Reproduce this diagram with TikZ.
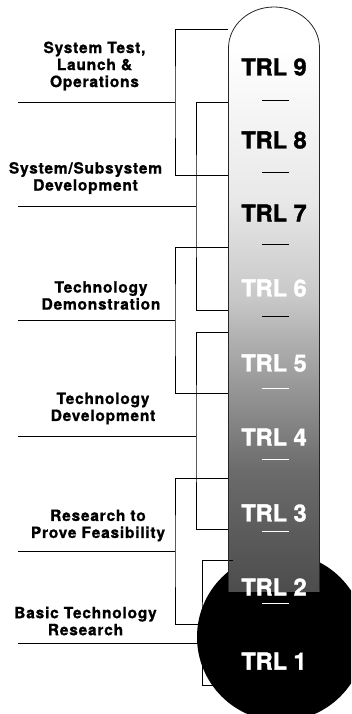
\documentclass[tikz,border=0pt]{standalone}
\usepackage{fontspec}
\setmainfont{TeX Gyre Heros}

% grey ramp of the thermometer tube, dark at the bottom, white at the top;
% the middle 50bp band is what gets stretched over the tube
\definecolor{tubeA}{gray}{0.30}
\definecolor{tubeB}{gray}{0.42}
\definecolor{tubeC}{gray}{0.69}
\definecolor{tubeD}{gray}{0.78}
\definecolor{tubeE}{gray}{0.91}
\pgfdeclareverticalshading{tubeshade}{100bp}{%
  color(0bp)=(tubeA); color(25bp)=(tubeA); color(36.1bp)=(tubeB);
  color(48.1bp)=(tubeC); color(51.8bp)=(tubeD); color(61bp)=(tubeE);
  color(75bp)=(white); color(100bp)=(white)}

\begin{document}
\begin{tikzpicture}[x=1pt, y=-1pt,
  brk/.style={draw=black, line width=0.8pt},
  lbl/.style={font=\bfseries\fontsize{15.5}{17}\selectfont\addfontfeature{LetterSpace=5,FakeBold=1},
              align=center, inner sep=0pt},
  trl/.style={font=\bfseries\fontsize{23.5}{24}\selectfont\addfontfeature{FakeBold=1.5}, inner sep=0pt},
  tick/.style={line width=0.9pt}]
\useasboundingbox (0,0) rectangle (351,714);
\clip (0,0) rectangle (351,714);

% ---- phase labels ----
\node[lbl] (s9) at (94.5,66)   {System Test,\\Launch \&\\Operations};
\node[lbl] (s8) at (85.5,178)  {System/Subsystem\\Development};
\node[lbl] (s6) at (101,295.5) {Technology\\Demonstration};
\node[lbl] (s4) at (103,408.5) {Technology\\Development};
\node[lbl] (s3) at (98,525.5)  {Research to\\Prove Feasibility};
\node[lbl] (s1) at (85.5,621)  {Basic Technology\\Research};

% ---- bracket end points ----
\coordinate (aT) at (228,29);  \coordinate (aJ) at (175,102); \coordinate (aB) at (228,175); \coordinate (aL) at (18,102);
\coordinate (bT) at (228,102); \coordinate (bJ) at (196,206); \coordinate (bB) at (228,310); \coordinate (bL) at (18,206);
\coordinate (cT) at (228,247); \coordinate (cJ) at (175,320); \coordinate (cB) at (228,393); \coordinate (cL) at (18,320);
\coordinate (dT) at (228,332); \coordinate (dJ) at (196,436); \coordinate (dB) at (228,529); \coordinate (dL) at (18,436);
\coordinate (eT) at (228,478); \coordinate (eJ) at (175,551); \coordinate (eB) at (199,624); \coordinate (eL) at (18,551);
\coordinate (fT) at (233,560); \coordinate (fJ) at (202,643); \coordinate (fB) at (216,685); \coordinate (fL) at (18,643);

% ---- brackets ----
\draw[brk] (aT) -| (aJ) |- (aB);  \draw[brk] (aL) -- (aJ);
\draw[brk] (bT) -| (bJ) |- (bB);  \draw[brk] (bL) -- (bJ);
\draw[brk] (cT) -| (cJ) |- (cB);  \draw[brk] (cL) -- (cJ);
\draw[brk] (dT) -| (dJ) |- (dB);  \draw[brk] (dL) -- (dJ);
\draw[brk] (eT) -| (eJ) |- (eB);  \draw[brk] (eL) -- (eJ);
\draw[brk] (fT) -| (fJ) |- (fB);  \draw[brk] (fL) -- (fJ);

% ---- bulb ----
\fill[black] (281,637) circle[radius=84pt];

% ---- tube with dome ----
\shade[shading=tubeshade] (228.5,48) rectangle (319.5,591);
\draw[line width=0.8pt, draw=black!85] (228.5,48) -- (228.5,591);
\draw[line width=0.8pt, draw=black!85] (319.5,48) -- (319.5,591);
\draw[line width=0.8pt, draw=black!85, fill=white]
  (228.5,48) arc[start angle=180, end angle=0, x radius=45.5pt, y radius=41pt];
\draw[brk] (228.5,560) -- (fT);

% ---- level separators ----
\foreach \y in {100,172,244,316} \draw[tick, black] (262,\y) -- (289,\y);
\foreach \y in {388,459,531,603} \draw[tick, white] (262,\y) -- (289,\y);

% ---- level names ----
\node[trl, text=black] (t9) at (274,67)  {TRL 9};
\node[trl, text=black] (t8) at (274,140) {TRL 8};
\node[trl, text=black] (t7) at (274,213) {TRL 7};
\node[trl, text=white] (t6) at (274,288) {TRL 6};
\node[trl, text=white] (t5) at (274,363) {TRL 5};
\node[trl, text=white] (t4) at (274,437) {TRL 4};
\node[trl, text=white] (t3) at (274,513) {TRL 3};
\node[trl, text=white] (t2) at (274,587) {TRL 2};
\node[trl, text=white] (t1) at (274,661) {TRL 1};
\end{tikzpicture}
\end{document}
